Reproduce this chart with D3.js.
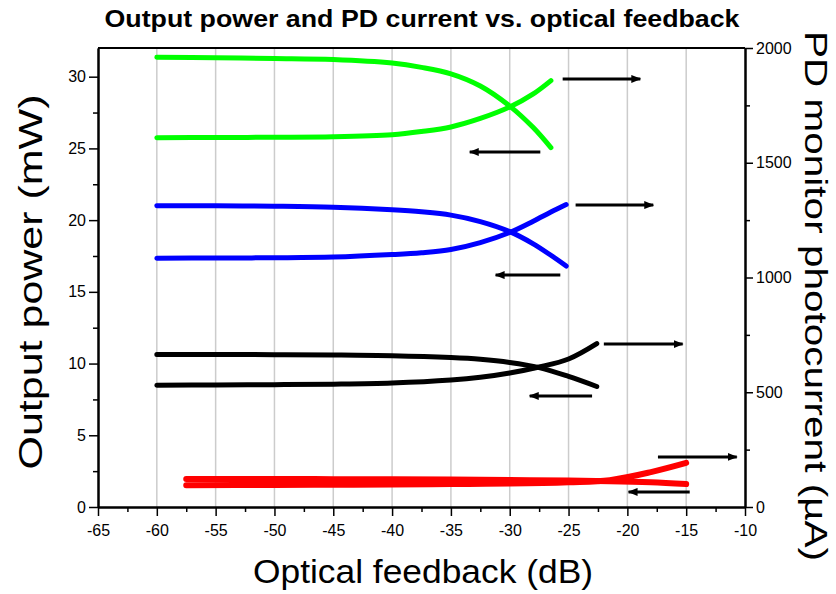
<!DOCTYPE html>
<html>
<head>
<meta charset="utf-8">
<script src="https://cdn.jsdelivr.net/npm/d3@7"></script>
<style>
  body { margin: 0; background: #fff; }
  text { font-family: "Liberation Sans", Arial, sans-serif; }
</style>
</head>
<body>
<div id="chart"></div>
<script>
// data (x in dB, power in mW, PD current in uA)
var greenX     = [-60, -55, -50, -45, -40, -37.5, -35, -32.5, -30, -28, -26.5];
var greenPower = [31.35, 31.32, 31.27, 31.2, 30.95, 30.65, 30.2, 29.35, 27.95, 26.45, 25.05];
var greenPD    = [1609, 1610, 1611, 1613, 1622, 1636, 1656, 1693, 1743, 1800, 1858];

var blueX      = [-60, -55, -50, -45, -40, -37.5, -35, -32.5, -30, -28, -26.5, -25.2];
var bluePower  = [21.0, 21.0, 20.97, 20.9, 20.72, 20.58, 20.35, 19.9, 19.2, 18.35, 17.55, 16.8];
var bluePD     = [1084, 1085, 1086, 1089, 1100, 1108, 1122, 1152, 1196, 1245, 1285, 1318];

var blackX     = [-60, -55, -50, -45, -40, -35, -32.5, -30, -27.5, -25, -22.6];
var blackPower = [10.63, 10.63, 10.62, 10.6, 10.55, 10.42, 10.3, 10.08, 9.72, 9.1, 8.4];
var blackPD    = [531, 532, 533, 535, 540, 553, 565, 584, 610, 645, 712];

var redX       = [-57.5, -50, -45, -40, -35, -30, -25, -21.5, -18, -15];
var redPower   = [1.96, 1.95, 1.94, 1.93, 1.91, 1.88, 1.84, 1.8, 1.72, 1.6];
var redPD      = [95, 96, 97, 98, 100, 102, 108, 117, 152, 192];

// arrows: [from dB, to dB, level in mW]
var arrowsRight = [[-25.5, -18.9, 29.84], [-24.4, -17.8, 21.05], [-22.0, -15.3, 11.36], [-17.4, -10.7, 3.49]];
var arrowsLeft  = [[-27.4, -33.4, 24.75], [-25.7, -31.2, 16.17], [-23.0, -28.3, 7.74], [-14.7, -19.9, 1.05]];

var xTicks = d3.range(-65, -9, 5);
var yLeftTicks = [0, 5, 10, 15, 20, 25, 30];
var yRightTicks = [0, 500, 1000, 1500, 2000];

var margin = {top: 48, right: 91, bottom: 87, left: 98},
    width = 836 - margin.left - margin.right,
    height = 594 - margin.top - margin.bottom;

var svg = d3.select("#chart")
  .append("svg")
    .attr("width", 836)
    .attr("height", 594)
  .append("g")
    .attr("transform", "translate(" + margin.left + "," + margin.top + ")");

var x = d3.scaleLinear().domain([-65, -10]).range([0, width]);
var yL = d3.scaleLinear().domain([0, 32]).range([height, 0]);
var yR = d3.scaleLinear().domain([0, 2000]).range([height, 0]);

var plain = function(d) { return String(d); };  // hyphen minus, no commas

// vertical grid
svg.append("g")
  .selectAll("line")
  .data(xTicks.filter(function(d) { return d > -65 && d < -10; }))
  .enter()
  .append("line")
    .attr("x1", function(d) { return x(d); })
    .attr("x2", function(d) { return x(d); })
    .attr("y1", 0)
    .attr("y2", height)
    .attr("stroke", "#cccccc")
    .attr("stroke-width", 1.5);

// axes
var xAxis = svg.append("g")
  .attr("transform", "translate(0," + height + ")")
  .call(d3.axisBottom(x).tickValues(xTicks).tickSize(9).tickSizeOuter(0).tickFormat(plain));
svg.append("g")
  .attr("transform", "translate(0," + height + ")")
  .call(d3.axisBottom(x).tickValues(d3.range(-62.5, -10, 5)).tickSize(5).tickSizeOuter(0).tickFormat(""));

svg.append("g")
  .call(d3.axisLeft(yL).tickValues(yLeftTicks).tickSize(9).tickSizeOuter(0).tickFormat(plain));
svg.append("g")
  .call(d3.axisLeft(yL).tickValues([2.5, 7.5, 12.5, 17.5, 22.5, 27.5]).tickSize(5).tickSizeOuter(0).tickFormat(""));

svg.append("g")
  .attr("transform", "translate(" + width + ",0)")
  .call(d3.axisRight(yR).tickValues(yRightTicks).tickSize(8).tickSizeOuter(0).tickFormat(plain));
svg.append("g")
  .attr("transform", "translate(" + width + ",0)")
  .call(d3.axisRight(yR).tickValues([250, 750, 1250, 1750]).tickSize(5).tickSizeOuter(0).tickFormat(""));

svg.selectAll(".domain").attr("stroke", "#000").attr("stroke-width", 2);
svg.selectAll(".tick line").attr("stroke", "#000").attr("stroke-width", 1.5);
svg.selectAll(".tick text")
  .style("font-family", "'Liberation Sans', Arial, sans-serif")
  .style("font-size", "16px")
  .attr("fill", "#000");
xAxis.selectAll(".tick text").attr("dy", "1.05em");

// top frame
svg.append("line")
  .attr("x1", 0).attr("x2", width).attr("y1", 0).attr("y2", 0)
  .attr("stroke", "#000").attr("stroke-width", 2);

// curves
var series = [
  {xs: greenX, ys: greenPower, scale: yL, color: "#00ff00", w: 5},
  {xs: greenX, ys: greenPD, scale: yR, color: "#00ff00", w: 5},
  {xs: blueX, ys: bluePower, scale: yL, color: "#0000ff", w: 5},
  {xs: blueX, ys: bluePD, scale: yR, color: "#0000ff", w: 5},
  {xs: blackX, ys: blackPower, scale: yL, color: "#000000", w: 5},
  {xs: blackX, ys: blackPD, scale: yR, color: "#000000", w: 5},
  {xs: redX, ys: redPower, scale: yL, color: "#ff0000", w: 6},
  {xs: redX, ys: redPD, scale: yR, color: "#ff0000", w: 6}
];

series.forEach(function(s) {
  var pts = s.xs.map(function(v, i) { return [v, s.ys[i]]; });
  var line = d3.line()
    .x(function(d) { return x(d[0]); })
    .y(function(d) { return s.scale(d[1]); })
    .curve(d3.curveCatmullRom.alpha(0.5));
  svg.append("path")
    .datum(pts)
    .attr("d", line)
    .attr("fill", "none")
    .attr("stroke", s.color)
    .attr("stroke-width", s.w)
    .attr("stroke-linecap", "round");
});

// arrow heads
svg.append("defs").append("marker")
    .attr("id", "head")
    .attr("viewBox", "0 0 10 8")
    .attr("refX", 9)
    .attr("refY", 4)
    .attr("markerWidth", 10)
    .attr("markerHeight", 8)
    .attr("markerUnits", "userSpaceOnUse")
    .attr("orient", "auto")
  .append("path")
    .attr("d", "M0,0L10,4L0,8Z")
    .attr("fill", "#000");

svg.selectAll("arrowline")
  .data(arrowsRight.concat(arrowsLeft))
  .enter()
  .append("line")
    .attr("x1", function(d) { return x(d[0]); })
    .attr("x2", function(d) { return x(d[1]); })
    .attr("y1", function(d) { return yL(d[2]); })
    .attr("y2", function(d) { return yL(d[2]); })
    .attr("stroke", "#000")
    .attr("stroke-width", 3)
    .attr("marker-end", "url(#head)");

// title and labels
svg.append("text")
  .attr("x", 324)
  .attr("y", -21)
  .attr("text-anchor", "middle")
  .attr("textLength", 635)
  .attr("lengthAdjust", "spacingAndGlyphs")
  .style("font-size", "24px")
  .style("font-weight", "bold")
  .text("Output power and PD current vs. optical feedback");

svg.append("text")
  .attr("x", 423 - margin.left)
  .attr("y", height + 76)
  .attr("text-anchor", "middle")
  .attr("textLength", 340)
  .attr("lengthAdjust", "spacingAndGlyphs")
  .style("font-size", "34px")
  .text("Optical feedback (dB)");

svg.append("text")
  .attr("transform", "rotate(-90)")
  .attr("x", -(282 - margin.top))
  .attr("y", 42 - margin.left)
  .attr("text-anchor", "middle")
  .attr("textLength", 375)
  .attr("lengthAdjust", "spacingAndGlyphs")
  .style("font-size", "34px")
  .text("Output power (mW)");

svg.append("text")
  .attr("transform", "translate(" + (805 - margin.left) + "," + (296 - margin.top) + ")rotate(90)")
  .attr("text-anchor", "middle")
  .attr("textLength", 530)
  .attr("lengthAdjust", "spacingAndGlyphs")
  .style("font-size", "31px")
  .text("PD monitor photocurrent (\u00b5A)");
</script>
</body>
</html>
